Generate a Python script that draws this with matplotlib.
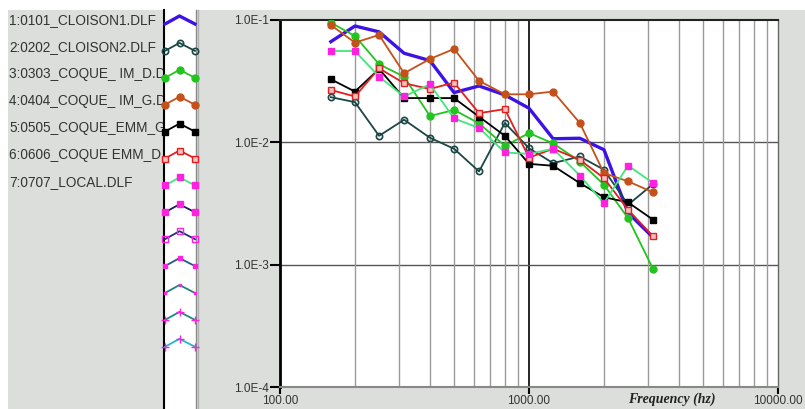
import matplotlib
matplotlib.use("Agg")
import matplotlib.pyplot as plt
from matplotlib.patches import Rectangle
from matplotlib.ticker import FixedLocator, FixedFormatter, NullFormatter, LogLocator

# ---------------- data ----------------
freqs = [160, 200, 250, 315, 400, 500, 630, 800, 1000, 1250, 1600, 2000, 2500, 3150]

cloison1 = [0.0665, 0.0893, 0.080, 0.0535, 0.0466, 0.0255, 0.0289, 0.0244, 0.019,
            0.0107, 0.0108, 0.0087, 0.00265, 0.00167]
cloison2 = [0.0234, 0.0213, 0.0113, 0.0153, 0.0109, 0.00886, 0.00578, 0.0144, 0.00895,
            0.00676, 0.00766, 0.00597, 0.00309, 0.00456]
coque_im_d = [0.095, 0.074, 0.0435, 0.0344, 0.0164, 0.0184, 0.0143, 0.00935, 0.0119,
              0.0098, 0.00697, 0.0045, 0.0024, 0.00092]
coque_im_g = [0.091, 0.0653, 0.0755, 0.0367, 0.048, 0.058, 0.0318, 0.0247, 0.0247,
              0.026, 0.0144, 0.0056, 0.0048, 0.0039]
coque_emm_g = [0.0328, 0.026, 0.0398, 0.023, 0.023, 0.023, 0.0162, 0.0113, 0.00667,
               0.00643, 0.00464, 0.00356, 0.00323, 0.00233]
coque_emm_d = [0.0268, 0.0237, 0.0403, 0.0304, 0.0273, 0.0308, 0.0173, 0.0187, 0.0075,
               0.00886, 0.0072, 0.0051, 0.00281, 0.0017]
local = [0.0558, 0.0558, 0.0344, 0.0237, 0.0298, 0.0157, 0.0131, 0.00826, 0.00805,
         0.00886, 0.00535, 0.00318, 0.00646, 0.00464]

legend_labels = ["1:0101_CLOISON1.DLF", "2:0202_CLOISON2.DLF", "3:0303_COQUE_ IM_D.DLF",
                 "4:0404_COQUE_ IM_G.DLF", "5:0505_COQUE_EMM_G.DLF", "6:0606_COQUE EMM_D.DLF",
                 "7:0707_LOCAL.DLF"]

y_ticks = [1e-4, 1e-3, 1e-2, 1e-1]
y_ticklabels = ["1.0E-4", "1.0E-3", "1.0E-2", "1.0E-1"]
x_ticks = [100, 1000, 10000]
x_ticklabels = ["100.00", "1000.00", "10000.00"]
x_label = "Frequency (hz)"

series = [cloison1, cloison2, coque_im_d, coque_im_g, coque_emm_g, coque_emm_d, local]
styles = [
    dict(color="#3c12e6", lw=2.4, marker=None),
    dict(color="#1b4646", lw=1.3, marker="o", ms=4.5, mfc="none", mec="#1b4646", mew=1.2),
    dict(color="#22c41e", lw=1.3, marker="o", ms=5, mfc="#22c41e", mec="#22c41e"),
    dict(color="#c4501a", lw=1.3, marker="o", ms=5, mfc="#c4501a", mec="#c4501a"),
    dict(color="#000000", lw=1.3, marker="s", ms=5, mfc="#000000", mec="#000000"),
    dict(color="#e41e1e", lw=1.3, marker="s", ms=4.5, mfc="#f4c0c0", mec="#e41e1e", mew=1.0),
    dict(color="#3de87a", lw=1.3, marker="s", ms=5, mfc="#ff20e0", mec="#ff20e0"),
]

W, H = 805, 409
fig = plt.figure(figsize=(W / 100, H / 100), dpi=100)
fig.patch.set_facecolor("white")

# overlay axes in pixel coords for panels & legend
bg = fig.add_axes([0, 0, 1, 1], zorder=0)
bg.set_xlim(0, W)
bg.set_ylim(H, 0)
bg.axis("off")
gray = "#dcdedc"
bg.add_patch(Rectangle((8, 10), 155, H - 10, facecolor=gray, edgecolor="none", zorder=0))
bg.add_patch(Rectangle((199, 10), W - 199, H - 10, facecolor=gray, edgecolor="none", zorder=0))

# legend labels (covered by the sample column on the right)
row_y0, row_dy = 20, 27
for i, lab in enumerate(legend_labels):
    bg.text(9, row_y0 + i * row_dy, lab, fontsize=9.8, color="#333333",
            family="Liberation Sans", va="center", ha="left", zorder=1)

bg.add_patch(Rectangle((164, 10), 32, H - 10, facecolor="white", edgecolor="none", zorder=2))
bg.add_patch(Rectangle((196, 10), 3, H - 10, facecolor=gray, edgecolor="none", zorder=2))
bg.plot([164, 164], [10, H], color="black", lw=1.5, zorder=3)
bg.plot([196, 196], [10, H], color="#888888", lw=1.0, zorder=3)
bg.plot([198, 198], [10, H], color="#b0b0b0", lw=1.0, zorder=3)

# legend samples
extra = [
    dict(color="#102060", lw=1.3, marker="s", ms=4.5, mfc="#ff20e0", mec="#ff20e0"),
    dict(color="#203080", lw=1.3, marker="s", ms=4.5, mfc="none", mec="#ff20e0"),
    dict(color="#1f5a8a", lw=1.3, marker="s", ms=3.5, mfc="#ff20e0", mec="#ff20e0"),
    dict(color="#208080", lw=1.3, marker="s", ms=2, mfc="#ff20e0", mec="#ff20e0"),
    dict(color="#1a8a80", lw=1.3, marker="+", ms=6, mfc="#ff20e0", mec="#ff20e0"),
    dict(color="#22b8c8", lw=1.3, marker="+", ms=6, mfc="#ff20e0", mec="#ff20e0"),
]
all_styles = styles + extra
for i, st in enumerate(all_styles):
    yc = row_y0 + i * (26.9)
    xs = [165, 179.5, 195]
    ys = [yc + 4, yc - 4, yc + 4]
    bg.plot(xs, ys, zorder=4, **st)

# ---------------- main axes ----------------
L, R, T, B = 280, 778, 20, 387
ax = fig.add_axes([L / W, 1 - B / H, (R - L) / W, (B - T) / H], zorder=2)
ax.set_facecolor("white")
ax.set_xscale("log")
ax.set_yscale("log")
ax.set_xlim(100, 10000)
ax.set_ylim(1e-4, 1e-1)

# grid
ax.xaxis.set_minor_locator(LogLocator(base=10, subs=range(2, 10)))
ax.xaxis.set_minor_formatter(NullFormatter())
ax.grid(True, which="minor", axis="x", color="#9a9a9a", lw=1.0)
ax.axvline(1000, color="black", lw=1.2, zorder=1)
for yv in [1e-3, 1e-2]:
    ax.axhline(yv, color="#555555", lw=1.0, zorder=1)
ax.yaxis.set_minor_locator(FixedLocator([]))
ax.tick_params(axis="x", which="minor", length=0)

for vals, st in zip(series, styles):
    ax.plot(freqs, vals, zorder=3, **st)

ax.xaxis.set_major_locator(FixedLocator(x_ticks))
ax.xaxis.set_major_formatter(FixedFormatter(x_ticklabels))
ax.yaxis.set_major_locator(FixedLocator(y_ticks))
ax.yaxis.set_major_formatter(FixedFormatter(y_ticklabels))
ax.tick_params(axis="y", which="major", direction="out", length=7, width=1.5,
               pad=1, labelsize=8.5, labelcolor="#333333")
ax.tick_params(axis="x", which="major", direction="out", length=5, width=1.5,
               pad=1, labelsize=8.5, labelcolor="#333333")
for lab in ax.get_xticklabels() + ax.get_yticklabels():
    lab.set_family("Liberation Sans")

ax.spines["left"].set_color("black")
ax.spines["left"].set_linewidth(2)
ax.spines["top"].set_color("#222222")
ax.spines["top"].set_linewidth(1.5)
ax.spines["right"].set_color("#666666")
ax.spines["right"].set_linewidth(1.0)
ax.spines["bottom"].set_color("#888888")
ax.spines["bottom"].set_linewidth(1.5)

fig.text(672 / W, 1 - 399 / H, x_label, fontsize=10, fontweight="bold", style="italic",
         family="Liberation Serif", ha="center", va="center", color="#222222")

fig.savefig("out.png", dpi=100)
